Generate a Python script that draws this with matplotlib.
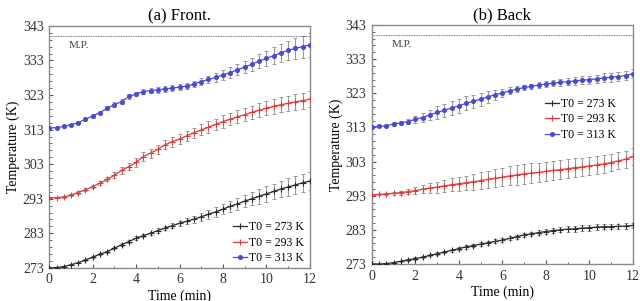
import numpy as np
import matplotlib
matplotlib.use("Agg")
import matplotlib.pyplot as plt

plt.rcParams['font.family'] = ['Liberation Serif', 'DejaVu Serif']

# time axis, one reading every 20 s
time_min = [i / 3 for i in range(37)]

labels = ["T0 = 273 K", "T0 = 293 K", "T0 = 313 K"]

front_273 = [273.0, 273.1, 273.4, 273.9, 274.5, 275.3, 276.1, 277.0, 277.7, 278.7,
             279.7, 280.6, 281.6, 282.3, 283.0, 283.8, 284.5, 285.2, 285.9,
             286.5, 287.1, 287.8, 288.5, 289.2, 290.0, 290.8, 291.5, 292.3, 293.0,
             293.7, 294.4, 295.1, 295.8, 296.4, 297.0, 297.6, 298.1]
front_293 = [293.3, 293.3, 293.5, 294.1, 294.8, 295.6, 296.5, 297.5, 298.6, 299.8,
             301.2, 302.3, 303.5, 305.2, 306.2, 307.3, 308.6, 309.5, 310.3,
             311.2, 312.1, 312.9, 313.7, 314.5, 315.3, 316.0, 316.7, 317.3, 318.0,
             318.6, 319.2, 319.7, 320.2, 320.6, 321.0, 321.4, 321.8]
front_313 = [313.4, 313.6, 313.9, 314.4, 315.0, 316.0, 317.0, 317.9, 319.2, 320.2,
             321.1, 322.6, 323.3, 324.0, 324.3, 324.5, 324.8, 325.0, 325.3,
             325.6, 326.2, 326.9, 327.5, 328.1, 328.8, 329.5, 330.3, 331.1, 331.9,
             332.8, 333.6, 334.4, 335.2, 335.9, 336.5, 337.0, 337.5]

back_273 = [273.0, 273.0, 273.1, 273.4, 273.8, 274.2, 274.6, 275.0, 275.5, 276.0,
            276.5, 277.0, 277.5, 278.0, 278.4, 278.8, 279.2, 279.6, 280.0,
            280.5, 281.0, 281.5, 281.8, 282.2, 282.5, 282.8, 283.0, 283.2, 283.3,
            283.5, 283.6, 283.8, 283.9, 283.9, 284.0, 284.1, 284.3]
back_293 = [293.2, 293.4, 293.5, 293.7, 293.9, 294.2, 294.5, 294.9, 295.2, 295.5,
            295.9, 296.2, 296.5, 296.8, 297.1, 297.4, 297.8, 298.1, 298.4,
            298.8, 299.1, 299.4, 299.6, 299.8, 300.1, 300.4, 300.6, 300.9, 301.2,
            301.4, 301.7, 302.0, 302.3, 302.7, 303.2, 303.7, 304.5]
back_313 = [313.1, 313.3, 313.5, 314.0, 314.3, 314.7, 315.4, 315.9, 316.7, 317.4,
            318.0, 318.7, 319.3, 320.1, 320.6, 321.3, 321.9, 322.6, 323.1,
            323.7, 324.2, 324.7, 325.0, 325.4, 325.7, 326.0, 326.2, 326.4, 326.6,
            326.8, 327.0, 327.2, 327.5, 327.7, 327.9, 328.2, 328.7]

# half-width of the error bars (K)
front_273_err = [0.1, 0.1, 0.2, 0.2, 0.2, 0.3, 0.3, 0.3, 0.3, 0.3,
                 0.4, 0.4, 0.5, 0.5, 0.5, 0.6, 0.6, 0.7, 0.8,
                 0.9, 1.0, 1.2, 1.3, 1.4, 1.5, 1.6, 1.7, 1.8, 1.9,
                 2.1, 2.2, 2.3, 2.4, 2.5, 2.6, 2.6, 2.7]
front_293_err = [0.1, 0.1, 0.2, 0.2, 0.3, 0.4, 0.5, 0.6, 0.6, 0.8,
                 0.9, 1.0, 1.2, 1.2, 1.3, 1.3, 1.3, 1.4, 1.4,
                 1.5, 1.5, 1.6, 1.7, 1.7, 1.8, 1.8, 1.9, 1.9, 1.9,
                 2.0, 2.0, 2.1, 2.1, 2.2, 2.3, 2.3, 2.4]
front_313_err = [0.2, 0.2, 0.3, 0.3, 0.4, 0.4, 0.5, 0.5, 0.6, 0.7,
                 0.7, 0.7, 0.7, 0.7, 0.8, 0.8, 0.8, 0.8, 0.8,
                 0.9, 0.9, 1.0, 1.1, 1.3, 1.4, 1.5, 1.6, 1.7, 1.9,
                 2.0, 2.2, 2.4, 2.6, 2.8, 3.0, 3.2, 3.4]
back_273_err = [0.1, 0.1, 0.1, 0.2, 0.2, 0.2, 0.3, 0.3, 0.3, 0.4,
                0.4, 0.4, 0.5, 0.5, 0.5, 0.5, 0.6, 0.6, 0.6,
                0.6, 0.6, 0.7, 0.7, 0.7, 0.7, 0.7, 0.7, 0.8, 0.8,
                0.8, 0.8, 0.8, 0.8, 0.8, 0.8, 0.8, 0.8]
back_293_err = [0.1, 0.2, 0.3, 0.4, 0.6, 0.8, 1.0, 1.2, 1.4, 1.6,
                1.7, 1.9, 2.0, 2.1, 2.3, 2.4, 2.5, 2.6, 2.7,
                2.8, 2.9, 2.9, 2.9, 2.9, 2.9, 2.9, 2.8, 2.8, 2.8,
                2.7, 2.7, 2.7, 2.6, 2.6, 2.5, 2.5, 2.4]
back_313_err = [0.1, 0.2, 0.3, 0.5, 0.6, 0.8, 1.0, 1.2, 1.4, 1.8,
                1.9, 2.0, 2.0, 2.0, 2.0, 1.9, 1.7, 1.5, 1.2,
                1.0, 0.9, 0.8, 0.8, 0.8, 0.8, 0.9, 1.0, 1.1, 1.2,
                1.2, 1.2, 1.2, 1.3, 1.3, 1.3, 1.3, 1.3]

melting_point = 340

colors = ['#2a2a2a', '#e03a3a', '#4a4ad8']
markers = ['+', '+', 'o']

fig = plt.figure(figsize=(6.4, 3.01), dpi=100)
ax_a = fig.add_axes([0.077, 0.110, 0.407, 0.804])
ax_b = fig.add_axes([0.581, 0.123, 0.408, 0.794])

panels = [
    (ax_a, "(a) Front.", [front_273, front_293, front_313],
     [front_273_err, front_293_err, front_313_err], dict(loc='lower right', bbox_to_anchor=(1.01, -0.02))),
    (ax_b, "(b) Back", [back_273, back_293, back_313],
     [back_273_err, back_293_err, back_313_err], dict(loc='upper left', bbox_to_anchor=(0.63, 0.73))),
]

for ax, title, series, errs, leg_kw in panels:
    for y, e, c, m, lab in zip(series, errs, colors, markers, labels):
        ax.errorbar(time_min, y, yerr=e, fmt='none', ecolor='#999999',
                    elinewidth=0.8, capsize=1.5, capthick=0.7, zorder=2)
        ax.plot(time_min, y, color=c, lw=0.9, marker=m, ms=2.8 if m == 'o' else 4,
                mew=0.8, mfc=c, label=lab, zorder=3)
    ax.axhline(melting_point, color='#444444', lw=0.6, ls=(0, (1, 1)))
    ax.text(0.9, melting_point - 1.3, "M.P.", fontsize=8, color='#444444', va='top')
    ax.set_xlim(0, 12)
    ax.set_ylim(273, 343)
    ax.set_xticks(range(0, 13, 2))
    ax.set_xticks(range(0, 13), minor=True)
    ax.set_yticks(range(273, 344, 10))
    ax.set_yticks(range(273, 344, 2), minor=True)
    ax.tick_params(direction='in', labelsize=10, length=3, color='#555555',
                   labelcolor='#333333', pad=4)
    ax.tick_params(which='minor', direction='in', length=1.8, color='#555555')
    for s in ax.spines.values():
        s.set_color('#8a8a8a')
        s.set_linewidth(1.0)
    ax.set_title(title, fontsize=12, pad=4)
    ax.set_xlabel("Time (min)", fontsize=10, labelpad=2)
    ax.set_ylabel("Temperature (K)", fontsize=10, labelpad=2)
    ax.legend(frameon=False, fontsize=8.5, handlelength=1.2, handletextpad=0.2,
              labelspacing=0.3, borderpad=0.2, **leg_kw)

fig.savefig("out.png", dpi=100)
